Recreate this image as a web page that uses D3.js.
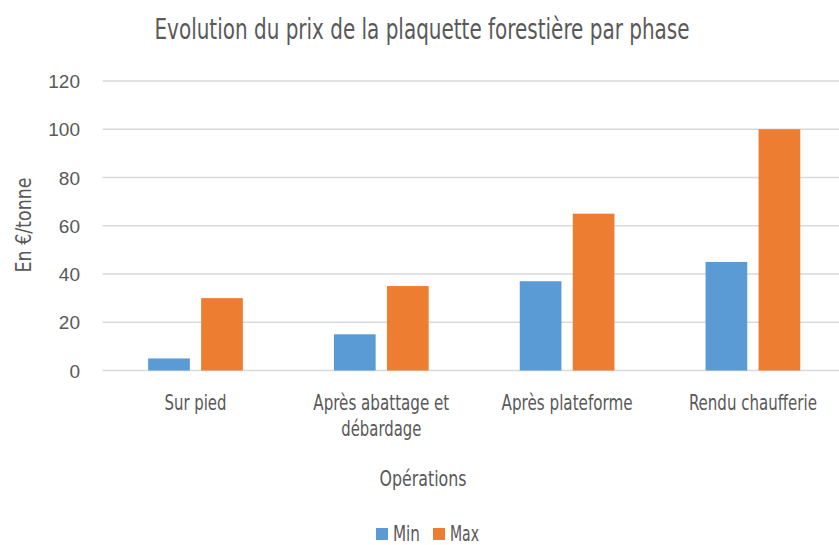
<!DOCTYPE html>
<html><head><meta charset="utf-8">
<script src="https://cdn.jsdelivr.net/npm/d3@7"></script>
<style>
body{margin:0;background:#fff;}
.cond{font-family:"Liberation Sans Narrow","DejaVu Sans Condensed","Roboto Condensed",sans-serif;fill:#595959;}
.tick text{font-family:"Liberation Sans","Open Sans",sans-serif;}
</style></head>
<body>
<svg id="c" width="839" height="545"></svg>
<script>
const categories = [["Sur pied"], ["Après abattage et", "débardage"], ["Après plateforme"], ["Rendu chaufferie"]];
const seriesNames = ["Min", "Max"];
const minValues = [5, 15, 37, 45];
const maxValues = [30, 35, 65, 100];
const yTicks = [0, 20, 40, 60, 80, 100, 120];
const colors = ["#5B9BD5", "#ED7D31"];

// rendered text widths (layout only) to emulate the condensed font
const labelWidths = {"Sur pied": 62, "Après abattage et": 136, "débardage": 80, "Après plateforme": 131, "Rendu chaufferie": 128, "Min": 27, "Max": 29};

const svg = d3.select("#c");
const pLeft = 102.6, pRight = 845.8, gridRight = 839, pTop = 81, pBottom = 370.5;
const x = d3.scaleBand().domain(d3.range(categories.length)).range([pLeft, pRight]);
const y = d3.scaleLinear().domain([0, 120]).range([pBottom, pTop]);
const barW = 41.7, gap = 11.3;

// gridlines
svg.append("g").selectAll("line").data(yTicks).join("line")
  .attr("x1", pLeft).attr("x2", gridRight)
  .attr("y1", d => y(d)).attr("y2", d => y(d))
  .attr("stroke", "#d9d9d9").attr("stroke-width", 1.3);

// y axis labels
const yAxis = d3.axisLeft(y).tickValues(yTicks).tickSize(0).tickPadding(0);
const ga = svg.append("g").attr("transform", `translate(80,0)`).call(yAxis);
ga.select(".domain").remove();
ga.selectAll("text").attr("fill", "#595959").attr("font-size", 19).attr("dy", "0.35em");

// bars
const series = [minValues, maxValues];
series.forEach((vals, si) => {
  svg.append("g").selectAll("rect").data(vals).join("rect")
    .attr("x", (d, i) => x(i) + x.bandwidth() / 2 + (si === 0 ? -gap / 2 - barW : gap / 2))
    .attr("width", barW)
    .attr("y", d => y(d))
    .attr("height", d => y(0) - y(d))
    .attr("fill", colors[si]);
});

// x labels
const xl = svg.append("g");
categories.forEach((lines, i) => {
  lines.forEach((t, j) => {
    xl.append("text").attr("class", "cond")
      .attr("x", x(i) + x.bandwidth() / 2)
      .attr("y", 410 + j * 26)
      .attr("text-anchor", "middle")
      .attr("font-size", 22)
      .attr("textLength", labelWidths[t]).attr("lengthAdjust", "spacingAndGlyphs")
      .text(t);
  });
});

// title
svg.append("text").attr("class", "cond").attr("x", 422).attr("y", 39)
  .attr("text-anchor", "middle").attr("font-size", 28)
  .attr("textLength", 535).attr("lengthAdjust", "spacingAndGlyphs")
  .text("Evolution du prix de la plaquette forestière par phase");

// y title
svg.append("text").attr("class", "cond")
  .attr("transform", "translate(31,225) rotate(-90)")
  .attr("text-anchor", "middle").attr("font-size", 22)
  .attr("textLength", 95).attr("lengthAdjust", "spacingAndGlyphs")
  .text("En €/tonne");

// x title
svg.append("text").attr("class", "cond").attr("x", 423).attr("y", 486)
  .attr("text-anchor", "middle").attr("font-size", 22)
  .attr("textLength", 87).attr("lengthAdjust", "spacingAndGlyphs")
  .text("Opérations");

// legend
const legX = [376, 433];
seriesNames.forEach((n, i) => {
  svg.append("rect").attr("x", legX[i]).attr("y", 528).attr("width", 12).attr("height", 12).attr("fill", colors[i]);
  svg.append("text").attr("class", "cond").attr("x", legX[i] + 17).attr("y", 541)
    .attr("font-size", 22)
    .attr("textLength", labelWidths[n]).attr("lengthAdjust", "spacingAndGlyphs")
    .text(n);
});
</script>
</body></html>
